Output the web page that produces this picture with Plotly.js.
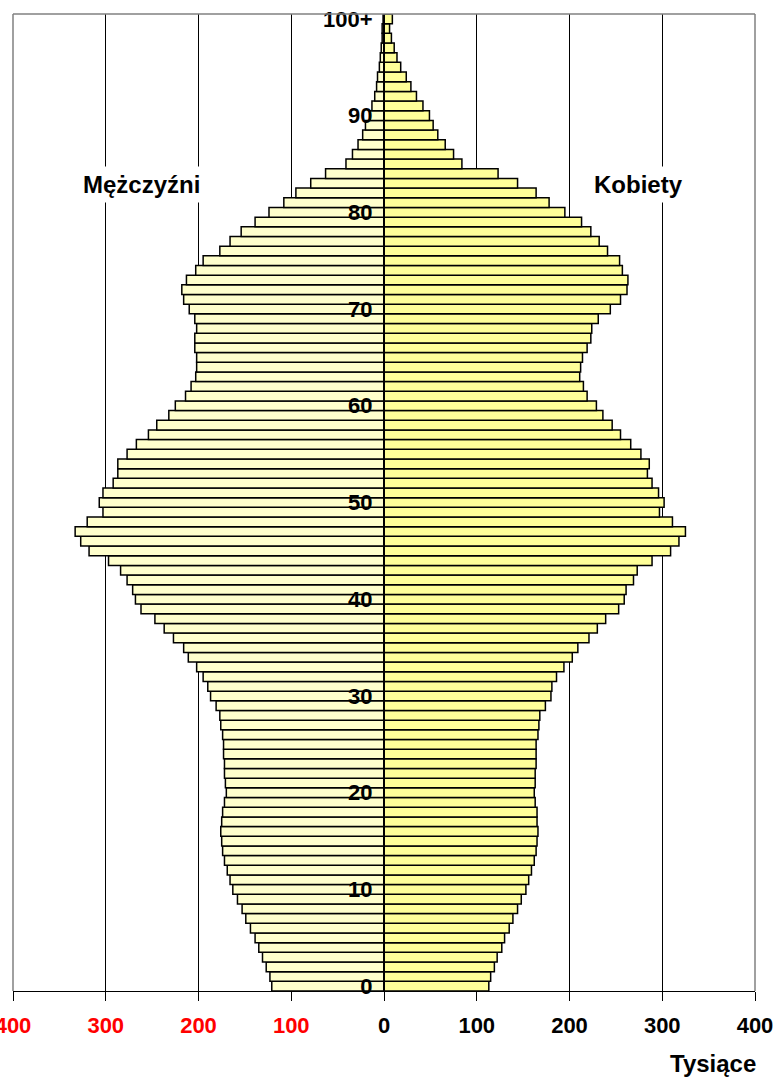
<!DOCTYPE html>
<html>
<head>
<meta charset="utf-8">
<script src="https://cdn.plot.ly/plotly-3.0.1.min.js"></script>
<style>
  html, body { margin: 0; padding: 0; background: #fff; }
  #chart { width: 777px; height: 1077px; }
</style>
</head>
<body>
<div id="chart"></div>
<script>
// Ages 0..100 (100 = "100+")
const ages = Array.from({length: 101}, (_, i) => i);

// Men (thousands), age 0..100+
const men = [
  121, 123, 127, 131, 135, 139, 144, 149, 153, 158,
  163, 166, 169, 172, 174, 175, 176, 175, 174, 172,
  170, 171, 172, 172, 173, 173, 174, 176, 177, 181,
  187, 190, 195, 202, 211, 216, 227, 237, 247, 262,
  268, 271, 277, 284, 297, 318, 327, 333, 320, 303,
  307, 303, 292, 287, 287, 277, 267, 254, 245, 232,
  225, 214, 208, 203, 202, 202, 204, 204, 202, 204,
  210, 216, 218, 213, 203, 195, 177, 166, 154, 139,
  124, 108, 95, 79, 63, 41, 34, 28, 23, 20,
  15, 13, 10, 8, 7, 5, 4, 3, 2, 2,
  1
];

// Women (thousands), age 0..100+
const women = [
  113, 115, 119, 122, 127, 130, 135, 139, 144, 148,
  153, 156, 159, 162, 164, 165, 166, 165, 165, 163,
  162, 163, 163, 164, 164, 164, 166, 167, 168, 174,
  180, 181, 186, 194, 203, 209, 221, 230, 239, 253,
  259, 261, 269, 273, 289, 309, 318, 325, 311, 297,
  302, 296, 289, 284, 286, 277, 266, 255, 246, 236,
  229, 219, 215, 211, 212, 214, 219, 223, 224, 231,
  244, 255, 262, 263, 257, 254, 241, 232, 223, 213,
  195, 178, 164, 144, 123, 84, 75, 66, 58, 53,
  49, 42, 35, 29, 24, 18, 14, 11, 8, 6,
  9
];

const xTickVals = [-400, -300, -200, -100, 0, 100, 200, 300, 400];
const xTickText = ["400", "300", "200", "100", "0", "100", "200", "300", "400"];
const yTickVals = [0, 10, 20, 30, 40, 50, 60, 70, 80, 90, 100];
const yTickText = ["0", "10", "20", "30", "40", "50", "60", "70", "80", "90", "100+"];

const labelMen = "Mężczyźni";
const labelWomen = "Kobiety";
const unitLabel = "Tysiące";

const FONT = "Arial, 'Liberation Sans', sans-serif";

const styledXTicks = xTickText.map((t, i) =>
  xTickVals[i] < 0 ? '<span style="color:#ff0000">' + t + '</span>' : t);

const traces = [
  {
    type: 'bar', orientation: 'h', name: labelMen,
    y: ages, x: men.map(v => -v),
    marker: { color: '#FFFFCC', line: { color: '#000000', width: 1.5 } },
    hoverinfo: 'skip'
  },
  {
    type: 'bar', orientation: 'h', name: labelWomen,
    y: ages, x: women,
    marker: { color: '#FFFF99', line: { color: '#000000', width: 1.5 } },
    hoverinfo: 'skip'
  }
];

const layout = {
  width: 777, height: 1077,
  margin: { l: 13, r: 22, t: 14, b: 86, pad: 0 },
  paper_bgcolor: '#ffffff', plot_bgcolor: '#ffffff',
  showlegend: false,
  barmode: 'overlay', bargap: 0,
  font: { family: FONT, size: 22, color: '#000000', weight: 'bold' },
  xaxis: {
    range: [-400, 400], tickmode: 'array', tickvals: xTickVals, ticktext: styledXTicks,
    showgrid: true, gridcolor: '#000000', gridwidth: 1, zeroline: false,
    showline: true, linecolor: '#000000', linewidth: 1,
    ticks: 'outside', ticklen: 9, tickcolor: '#000000', tickwidth: 1,
    tickfont: { family: FONT, size: 22, color: '#000000', weight: 'bold' },
    ticklabelstandoff: 6, ticklabeloverflow: 'allow', fixedrange: true
  },
  yaxis: {
    anchor: 'free', position: 0.5, side: 'left',
    range: [-0.5, 100.5], tickmode: 'array', tickvals: yTickVals, ticktext: yTickText,
    showgrid: false, zeroline: false,
    showline: true, linecolor: '#000000', linewidth: 2,
    ticks: '', ticklabelstandoff: 6,
    tickfont: { family: FONT, size: 22, color: '#000000', weight: 'bold' },
    fixedrange: true
  },
  shapes: [
    { type: 'line', xref: 'paper', yref: 'paper', x0: 0, x1: 1, y0: 1, y1: 1, line: { color: '#808080', width: 1.5 }, layer: 'above' },
    { type: 'line', xref: 'paper', yref: 'paper', x0: 0, x1: 0, y0: 0, y1: 1, line: { color: '#808080', width: 1.5 }, layer: 'above' },
    { type: 'line', xref: 'paper', yref: 'paper', x0: 1, x1: 1, y0: 0, y1: 1, line: { color: '#808080', width: 1.5 }, layer: 'above' }
  ],
  annotations: [
    { text: labelMen, xref: 'x', yref: 'y', x: -262, y: 82.9, showarrow: false,
      bgcolor: '#ffffff', borderpad: 4,
      font: { family: FONT, size: 24, color: '#000000', weight: 'bold' } },
    { text: labelWomen, xref: 'x', yref: 'y', x: 274, y: 82.9, showarrow: false,
      bgcolor: '#ffffff', borderpad: 4,
      font: { family: FONT, size: 24, color: '#000000', weight: 'bold' } },
    { text: unitLabel, xref: 'paper', yref: 'paper', x: 0.943, y: -0.0737, showarrow: false,
      xanchor: 'center', yanchor: 'middle',
      font: { family: FONT, size: 24, color: '#000000', weight: 'bold' } }
  ]
};

Plotly.newPlot('chart', traces, layout, { displayModeBar: false, staticPlot: true });
</script>
</body>
</html>
